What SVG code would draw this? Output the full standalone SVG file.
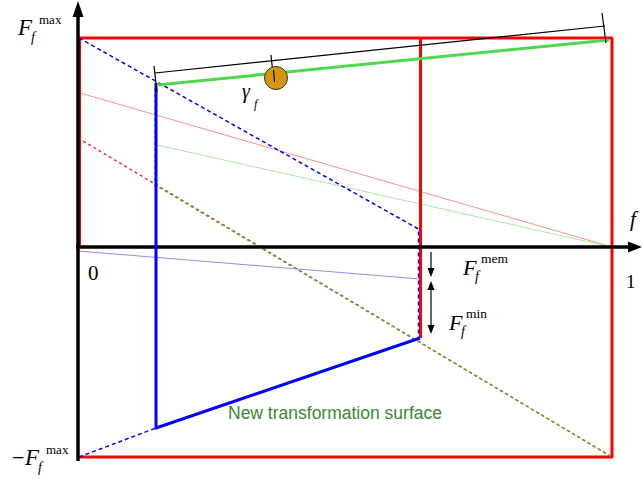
<svg xmlns="http://www.w3.org/2000/svg" width="643" height="479" viewBox="0 0 643 479">
<style>
.ax{stroke:#000;stroke-width:3.5;fill:none}
.rd{stroke:#FF0000;stroke-width:3;fill:none}
.bl{stroke:#0000FF;stroke-width:3;fill:none;stroke-linejoin:round}
.bld{stroke:#0000FF;stroke-width:1.5;fill:none;stroke-dasharray:4 3}
.rdd{stroke:#FF2020;stroke-width:1.4;fill:none;stroke-dasharray:3 3}
.grd{stroke:#40C040;stroke-width:1.4;fill:none;stroke-dasharray:3 3;stroke-dashoffset:3}
.thin{stroke-width:1;fill:none}
.blk{stroke:#000;stroke-width:1.2;fill:none}
.m{font-family:"Liberation Serif","DejaVu Serif","Times New Roman",serif;fill:#000}
.it{font-style:italic}
</style>
<rect width="643" height="479" fill="#fff"/>
<g id="thin-lines">
<line class="thin" x1="80" y1="93" x2="612" y2="247" stroke="#FF9090"/>
<line class="thin" x1="157" y1="145" x2="612" y2="247" stroke="#A8EAA8"/>
<line class="thin" x1="78" y1="251" x2="420" y2="279" stroke="#8C8CFF"/>
</g>
<g id="red-frame">
<line class="rd" x1="78" y1="38" x2="613" y2="38"/>
<line class="rd" x1="79.5" y1="38" x2="79.5" y2="245"/>
<line class="rd" x1="612" y1="38" x2="612" y2="458"/>
<line class="rd" x1="80" y1="457" x2="613" y2="457"/>
<line class="rd" x1="420.5" y1="38" x2="420.5" y2="338"/>
</g>
<g id="dashed">
<polyline class="bld" points="79,38 418.5,229 418.5,338"/>
<line class="bld" x1="79" y1="457" x2="156" y2="428"/>
<line class="rdd" x1="78" y1="138" x2="612" y2="457"/>
<polyline class="grd" points="155,85 155,185 612,457"/>
</g>
<g id="axes">
<line class="ax" x1="78" y1="14" x2="78" y2="461"/>
<polygon points="78,1 72.5,17 83.5,17" fill="#000"/>
<line class="ax" x1="76" y1="247" x2="630" y2="247"/>
<polygon points="642,247 628,241.5 628,252.5" fill="#000"/>
</g>
<g id="blue-surface">
<polyline class="bl" points="156,83 156,428 420,338"/>
</g>
<g id="green-surface">
<line x1="157" y1="85" x2="609" y2="40" stroke="#4ED84E" stroke-width="3"/>
</g>
<g id="dimension">
<line class="blk" x1="155" y1="73" x2="605" y2="26"/>
<line class="blk" x1="154" y1="66" x2="157" y2="92"/>
<line class="blk" x1="271" y1="55" x2="273.5" y2="79"/>
<line class="blk" x1="602" y1="13" x2="606" y2="43"/>
</g>
<g id="gamma-node">
<circle cx="276" cy="78" r="11.5" fill="#D4970C" stroke="#333" stroke-width="1"/>
<line class="blk" x1="273.5" y1="70" x2="274.5" y2="82"/>
<text class="m it" x="242" y="98" font-size="20">γ</text>
<text class="m it" x="254" y="108" font-size="12">f</text>
</g>
<g id="gap-arrows">
<line class="blk" x1="431" y1="252" x2="431" y2="270"/>
<polygon points="431,277 427.5,268 434.5,268" fill="#000"/>
<line class="blk" x1="431" y1="288" x2="431" y2="326"/>
<polygon points="431,281 427.5,290 434.5,290" fill="#000"/>
<polygon points="431,334 427.5,325 434.5,325" fill="#000"/>
</g>
<g id="labels">
<text class="m it" x="18" y="35" font-size="23">F</text>
<text class="m it" x="31" y="42" font-size="14">f</text>
<text class="m" x="39" y="24" font-size="13">max</text>

<text class="m" x="12" y="465" font-size="22">−</text>
<text class="m it" x="25" y="465" font-size="23">F</text>
<text class="m it" x="38" y="472" font-size="14">f</text>
<text class="m" x="46" y="454" font-size="13">max</text>

<text class="m" x="88" y="280" font-size="21">0</text>
<text class="m" x="626" y="288" font-size="19">1</text>
<text class="m it" x="630" y="226" font-size="21">f</text>

<text class="m it" x="463" y="275" font-size="22">F</text>
<text class="m it" x="475" y="281" font-size="14">f</text>
<text class="m" x="481" y="263" font-size="13.5">mem</text>

<text class="m it" x="449" y="330" font-size="22">F</text>
<text class="m it" x="461" y="336" font-size="14">f</text>
<text class="m" x="466" y="318" font-size="13.5">min</text>

<text x="228" y="419" font-family="Liberation Sans, Arial, sans-serif" font-size="17.5" fill="#3B8633">New transformation surface</text>
</g>
</svg>
